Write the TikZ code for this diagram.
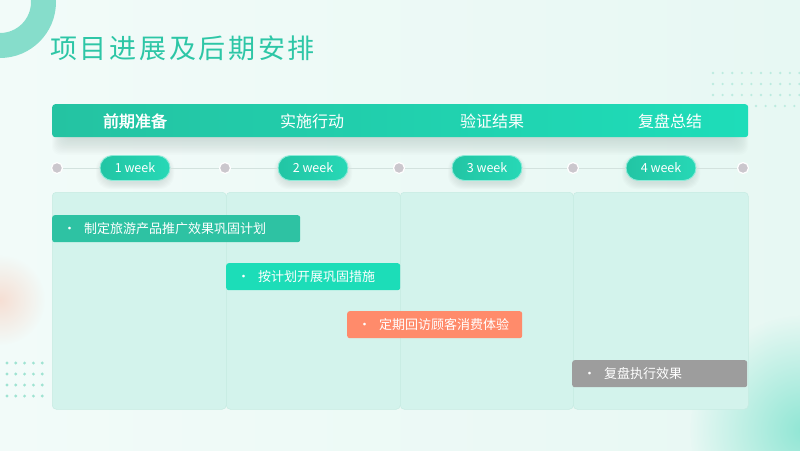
\documentclass[tikz,border=0pt]{standalone}
\usepackage{fontspec}
\setmainfont{Noto Sans CJK SC}
\newfontfamily\cjkb{Noto Sans CJK SC}[FakeBold=2]
\usetikzlibrary{fadings}
\tikzfading[name=blobfade,inner color=transparent!0,outer color=transparent!100]
\definecolor{bgA}{HTML}{F2FBF9}
\definecolor{bgB}{HTML}{E7F8F3}
\definecolor{ringc}{HTML}{86DDCB}
\definecolor{titlec}{HTML}{2DC6A6}
\definecolor{hdrL}{HTML}{24C3A2}
\definecolor{hdrR}{HTML}{1EDDB9}
\definecolor{pillL}{HTML}{22C5A4}
\definecolor{pillR}{HTML}{27D8B6}
\definecolor{pillE}{HTML}{8CEBD8}
\definecolor{panel}{HTML}{D3F3EC}
\definecolor{panelE}{HTML}{C6EBE2}
\definecolor{tkA}{HTML}{2EC2A3}
\definecolor{tkB}{HTML}{1CDDB8}
\definecolor{tkC}{HTML}{FF8B6B}
\definecolor{tkD}{HTML}{9D9D9D}
\definecolor{dotc}{HTML}{CBC7CD}
\definecolor{linec}{HTML}{D3E2DE}
\definecolor{gridc}{HTML}{9FE3D2}
\definecolor{blobP}{HTML}{F8D3C4}
\definecolor{blobT}{HTML}{8FE6D4}
\definecolor{shad}{HTML}{5A6E69}
\newcommand\tasktext[2]{\makebox[#1][l]{{\fontsize{13}{13}\selectfont\textbullet}\hspace{8pt}#2}}
\newcommand\pillshadow[1]{\foreach \k in {0,...,6}{
  \fill[shad,opacity=0.025,rounded corners=14pt] (#1-33-\k,158-\k*0.5) rectangle (#1+33+\k,183+\k);}}
\begin{document}
\begin{tikzpicture}[x=1pt,y=-1pt,
  hdrtxt/.style={text=white,font=\fontsize{16}{18}\selectfont},
  pill/.style={rounded corners=12.5pt,minimum width=70pt,minimum height=25pt,inner sep=0pt,
    left color=pillL,right color=pillR,draw=pillE,line width=0.9pt,text=white,
    font=\fontsize{12.5}{14}\selectfont},
  tdot/.style={circle,fill=dotc,draw=white,line width=1.2pt,minimum size=11pt,inner sep=0pt},
  panelbox/.style={rounded corners=4pt,fill=panel,draw=panelE,line width=0.5pt,anchor=north west,
    minimum height=217pt,inner sep=0pt},
  taskbar/.style={rounded corners=2.5pt,anchor=north west,minimum height=27pt,inner xsep=11pt,
    inner ysep=0pt,text=white,font=\fontsize{13}{15}\selectfont},
  conn/.style={draw=linec,line width=0.8pt}]
\useasboundingbox (0,0) rectangle (800,450);
% background
\shade[left color=bgA,right color=bgB] (0,0) rectangle (800,450);
\fill[blobP,path fading=blobfade,opacity=0.7] (0,300) circle (45pt);
\fill[blobT,path fading=blobfade] (805,430) circle (115pt);
\fill[ringc,even odd rule] (0,2) circle (56pt) (0,2) circle (31pt);
% dot grids
\foreach \i in {0,...,4}{\foreach \j in {0,...,3}{
  \fill[gridc] (7+8.8*\i,363+11*\j) circle (1.6pt);}}
\foreach \i in {0,...,9}{\foreach \j in {0,...,2}{
  \fill[gridc,opacity=0.6] (713+9.6*\i,73+11*\j) circle (1.3pt);}}
\foreach \i in {0,...,4}{
  \fill[gridc,opacity=0.6] (756+9.6*\i,106) circle (1.3pt);}
% title
\node[anchor=west,text=titlec,inner sep=0pt,font=\fontsize{27}{30}\selectfont\addfontfeatures{LetterSpace=10}] (title) at (50,48) {项目进展及后期安排};
% panels
\node[panelbox,minimum width=174pt] (c1) at (52,192) {};
\node[panelbox,minimum width=174pt] (c2) at (226,192) {};
\node[panelbox,minimum width=173pt] (c3) at (400,192) {};
\node[panelbox,minimum width=175pt] (c4) at (573,192) {};
% header shadow
\foreach \k in {0,...,12}{
  \fill[shad,opacity=0.014,rounded corners=8pt] (64-\k,112) rectangle (736+\k,138+\k*1.4);}
% header
\node[rounded corners=3pt,left color=hdrL,right color=hdrR,minimum width=696pt,minimum height=33pt,
  anchor=north west,inner sep=0pt] (hdr) at (52,104) {};
\node[hdrtxt] (h1) at (135,121) {\cjkb 前期准备};
\node[hdrtxt] (h2) at (312,121) {实施行动};
\node[hdrtxt] (h3) at (492,121) {验证结果};
\node[hdrtxt] (h4) at (670,121) {复盘总结};
% timeline
\node[tdot] (d1) at (57,168) {};
\node[tdot] (d2) at (225,168) {};
\node[tdot] (d3) at (399,168) {};
\node[tdot] (d4) at (573,168) {};
\node[tdot] (d5) at (743,168) {};
\pillshadow{135}\pillshadow{313}\pillshadow{487}\pillshadow{661}
\node[pill] (p1) at (135,168) {1 week};
\node[pill] (p2) at (313,168) {2 week};
\node[pill] (p3) at (487,168) {3 week};
\node[pill] (p4) at (661,168) {4 week};
\draw[conn] (d1) -- (p1); \draw[conn] (p1) -- (d2);
\draw[conn] (d2) -- (p2); \draw[conn] (p2) -- (d3);
\draw[conn] (d3) -- (p3); \draw[conn] (p3) -- (d4);
\draw[conn] (d4) -- (p4); \draw[conn] (p4) -- (d5);
% tasks
\node[taskbar,fill=tkA] (t1) at (52,215) {\tasktext{226pt}{制定旅游产品推广效果巩固计划}};
\node[taskbar,fill=tkB] (t2) at (226,263) {\tasktext{152pt}{按计划开展巩固措施}};
\node[taskbar,fill=tkC] (t3) at (347,311) {\tasktext{153pt}{定期回访顾客消费体验}};
\node[taskbar,fill=tkD] (t4) at (572,360) {\tasktext{153pt}{复盘执行效果}};
\end{tikzpicture}
\end{document}
